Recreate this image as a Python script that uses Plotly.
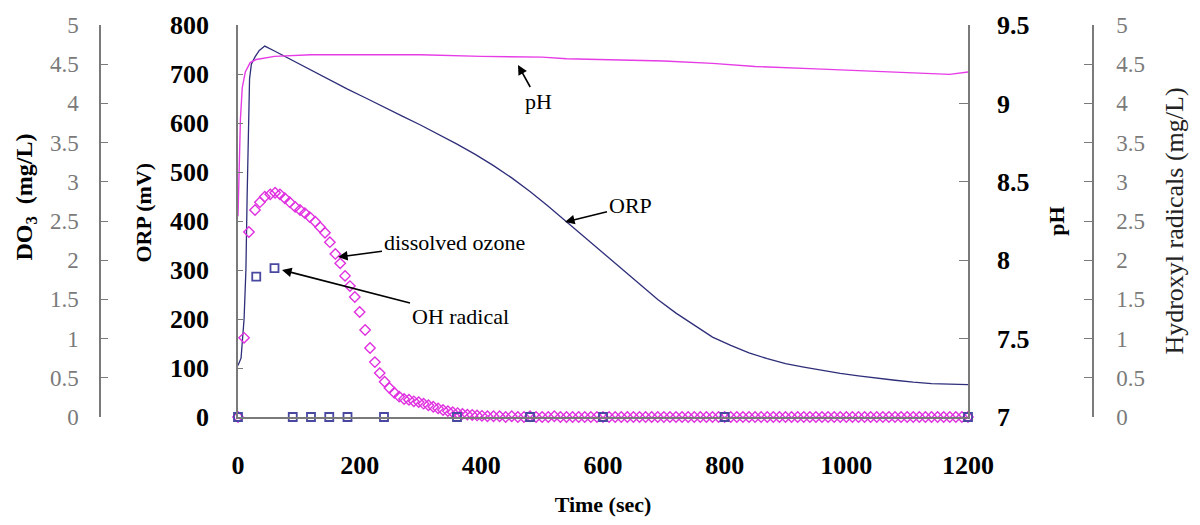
import plotly.graph_objects as go

# ---------------- data ----------------
orp_t = [0, 5, 10, 13, 15, 17, 19, 22, 28, 35, 44, 60, 80, 100, 120, 150, 180, 210, 240, 270,
         300, 330, 360, 390, 420, 450, 480, 510, 540, 570, 600, 630, 660, 690, 720, 750, 780,
         810, 840, 870, 900, 930, 960, 990, 1020, 1050, 1080, 1110, 1140, 1170, 1200]
orp_v = [105, 120, 200, 300, 450, 600, 690, 720, 735, 748, 757, 747, 734, 721, 708, 688, 669, 651, 632, 614,
         596, 577, 557, 536, 513, 488, 460, 430, 398, 366, 335, 303, 272, 240, 212, 187, 163,
         146, 131, 119, 109, 102, 95, 89, 84, 79, 75, 71, 68, 67, 66]

ph_t = [0, 2, 4, 7, 12, 20, 30, 60, 120, 200, 300, 400, 500, 540, 600, 700, 780, 850, 950, 1050, 1120, 1170, 1200]
ph_v = [8.28, 8.6, 8.9, 9.1, 9.2, 9.26, 9.28, 9.3, 9.31, 9.31, 9.31, 9.30, 9.295, 9.285, 9.28, 9.27, 9.255,
        9.235, 9.22, 9.205, 9.19, 9.185, 9.2]

ozone_t = [0, 10, 18, 28, 36, 44, 53, 61, 69, 77, 85, 94, 102, 110, 118, 127, 135, 143, 151, 160, 168,
           176, 184, 192, 200, 209, 217, 225, 233, 241, 249, 257, 265, 273, 281, 289, 297, 305, 313,
           321, 329, 337, 345, 353, 361, 369, 377, 385, 393, 401,
           410, 420, 430, 440, 450, 460, 470, 480, 490, 500, 510, 520, 530, 540, 550, 560, 570, 580,
           590, 600, 610, 620, 630, 640, 650, 660, 670, 680, 690, 700, 710, 720, 730, 740, 750, 760,
           770, 780, 790, 800, 810, 820, 830, 840, 850, 860, 870, 880, 890, 900, 910, 920, 930, 940,
           950, 960, 970, 980, 990, 1000, 1010, 1020, 1030, 1040, 1050, 1060, 1070, 1080, 1090, 1100,
           1110, 1120, 1130, 1140, 1150, 1160, 1170, 1180, 1190, 1200]
ozone_v = [0.0, 1.01, 2.36, 2.64, 2.74, 2.81, 2.84, 2.86, 2.84, 2.79, 2.74, 2.68, 2.64, 2.60, 2.55, 2.49, 2.42,
           2.35, 2.23, 2.08, 1.96, 1.80, 1.67, 1.53, 1.34, 1.11, 0.88, 0.70, 0.56, 0.45, 0.37, 0.31,
           0.26, 0.23, 0.22, 0.20, 0.19, 0.17, 0.15, 0.13, 0.11, 0.09, 0.075, 0.06, 0.05, 0.04, 0.03,
           0.025, 0.02, 0.015,
           0.01, 0.01, 0.01, 0.0, 0.01, 0.0, 0.0, 0.01, 0.0, 0.0, 0.0, 0.01, 0.0, 0.0, 0.0, 0.0, 0.0, 0.0,
           0.0, 0.0, 0.0, 0.0, 0.0, 0.0, 0.0, 0.0, 0.0, 0.0, 0.0, 0.0, 0.0, 0.0, 0.0, 0.0, 0.0, 0.0,
           0.0, 0.0, 0.0, 0.0, 0.0, 0.0, 0.0, 0.0, 0.0, 0.0, 0.0, 0.0, 0.0, 0.0, 0.0, 0.0, 0.0, 0.0,
           0.0, 0.0, 0.0, 0.0, 0.0, 0.0, 0.0, 0.0, 0.0, 0.0, 0.0, 0.0, 0.0, 0.0, 0.0, 0.0,
           0.0, 0.0, 0.0, 0.0, 0.0, 0.0, 0.0, 0.0, 0.0, 0.0]

oh_t = [0, 30, 60, 90, 120, 150, 180, 240, 360, 480, 600, 800, 1200]
oh_v = [0, 1.79, 1.90, 0, 0, 0, 0, 0, 0, 0, 0, 0, 0]

x_ticks = [0, 200, 400, 600, 800, 1000, 1200]

# ---------------- figure ----------------
FONT = "Liberation Serif"
GRAY = "#7a7a7a"
W, H = 1200, 525
x0, x1 = 238, 968
ytop, ybot = 25, 417

def px(x):
    return x / W

def py(y):
    return (H - y) / H

fig = go.Figure()
fig.add_trace(go.Scatter(x=orp_t, y=orp_v, mode="lines", name="ORP", yaxis="y",
                         line=dict(color="#2e2e7a", width=1.3)))
fig.add_trace(go.Scatter(x=ph_t, y=ph_v, mode="lines", name="pH", yaxis="y3",
                         line=dict(color="#e63ce6", width=1.4)))
fig.add_trace(go.Scatter(x=ozone_t, y=ozone_v, mode="markers", name="dissolved ozone", yaxis="y2",
                         cliponaxis=False,
                         marker=dict(symbol="diamond-open", size=8, color="#e030e0", line=dict(width=1.4))))
fig.add_trace(go.Scatter(x=oh_t, y=oh_v, mode="markers", name="OH radical", yaxis="y4",
                         cliponaxis=False,
                         marker=dict(symbol="square-open", size=8, color="#4848a0", line=dict(width=1.8))))

dom_y = [py(ybot), py(ytop)]
bold_tick = dict(family=FONT, size=26, color="black", weight="bold")
gray_tick = dict(family=FONT, size=23, color=GRAY)

fig.update_layout(
    width=W, height=H, template="none",
    paper_bgcolor="white", plot_bgcolor="white",
    margin=dict(l=0, r=0, t=0, b=0),
    showlegend=False,
    font=dict(family=FONT, color="black"),
    xaxis=dict(domain=[px(x0), px(x1)], range=[0, 1200], tickvals=x_ticks,
               showgrid=False, zeroline=False, showline=True, linecolor=GRAY, linewidth=1.5,
               ticks="", tickfont=bold_tick, ticklabelstandoff=24,
               title=dict(text="Time (sec)", font=dict(family=FONT, size=22, weight="bold"), standoff=18)),
    yaxis=dict(domain=dom_y, range=[0, 800], dtick=100, anchor="x", side="left",
               showgrid=False, zeroline=False, showline=True, linecolor=GRAY, linewidth=1.5,
               ticks="inside", ticklen=5, tickcolor=GRAY, tickfont=bold_tick, ticklabelstandoff=22,
               title=dict(text="&nbsp;&nbsp;&nbsp;ORP (mV)", font=dict(family=FONT, size=22, weight="bold"),
                          standoff=12)),
    yaxis2=dict(domain=dom_y, range=[0, 5], dtick=0.5, overlaying="y", anchor="free",
                position=px(100), side="left",
                showgrid=False, zeroline=False, showline=True, linecolor=GRAY, linewidth=1.5,
                ticks="inside", ticklen=7, tickcolor=GRAY, tickfont=gray_tick, ticklabelstandoff=16,
                title=dict(text="&nbsp;&nbsp;&nbsp;&nbsp;&nbsp;&nbsp;&nbsp;&nbsp;DO<sub>3</sub>&nbsp;&nbsp;(mg/L)",
                           font=dict(family=FONT, size=24, weight="bold"), standoff=10)),
    yaxis3=dict(domain=dom_y, range=[7, 9.5], dtick=0.5, overlaying="y", anchor="x", side="right",
                showgrid=False, zeroline=False, showline=True, linecolor=GRAY, linewidth=1.5,
                ticks="inside", ticklen=9, tickcolor=GRAY, tickfont=bold_tick, ticklabelstandoff=22,
                title=dict(text="pH", font=dict(family=FONT, size=22, weight="bold"), standoff=20)),
    yaxis4=dict(domain=dom_y, range=[0, 5], dtick=0.5, overlaying="y", anchor="free",
                position=px(1093), side="right",
                showgrid=False, zeroline=False, showline=True, linecolor=GRAY, linewidth=1.5,
                ticks="inside", ticklen=8, tickcolor=GRAY, tickfont=gray_tick, ticklabelstandoff=18,
                title=dict(text="Hydroxyl radicals (mg/L)", font=dict(family=FONT, size=26, color="#222"),
                           standoff=20)),
)

ann_font = dict(family=FONT, size=22, color="black")
annotations = [
    # text, text center (px), arrow head (px)
    ("pH", (538, 101), (518, 65)),
    ("ORP", (630, 206), (565, 222)),
    ("dissolved ozone", (454, 242), (338, 257)),
    ("OH radical", (460, 316), (282, 270)),
]
for text, (tx, ty), (hx, hy) in annotations:
    fig.add_annotation(x=px(hx), y=py(hy), xref="paper", yref="paper",
                       ax=tx - hx, ay=ty - hy, axref="pixel", ayref="pixel",
                       text=text, showarrow=True, arrowhead=2, arrowsize=1.2, arrowwidth=1.6,
                       arrowcolor="black", font=ann_font, standoff=0, startstandoff=0)

fig.write_html("out.html")
